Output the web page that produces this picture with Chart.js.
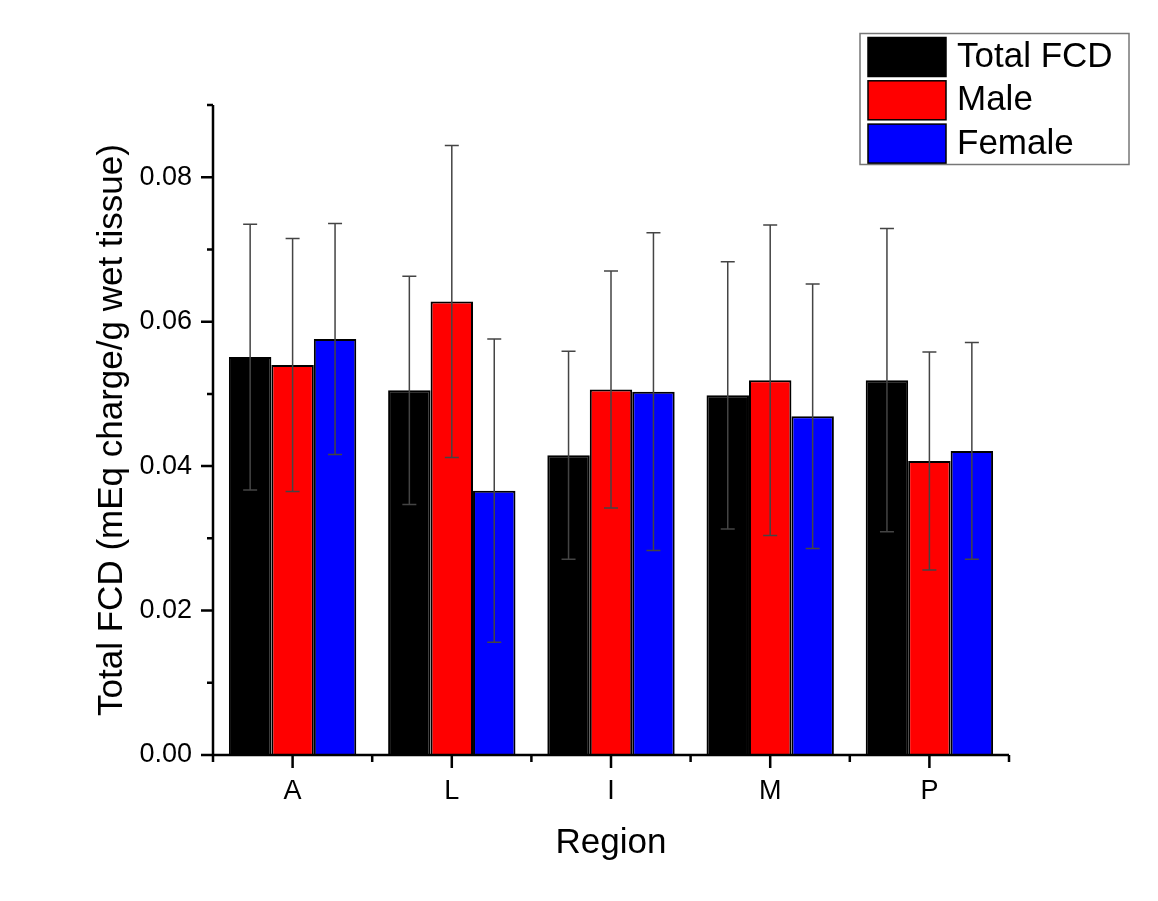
<!DOCTYPE html>
<html>
<head>
<meta charset="utf-8">
<title>Total FCD by region</title>
<script src="https://cdn.jsdelivr.net/npm/chart.js@4.4.1/dist/chart.umd.min.js"></script>
<style>
  body { margin: 0; background: #fff; }
</style>
</head>
<body>
<canvas id="fcdChart" width="1158" height="901"></canvas>
<script>
// DATA ==================================================================
var regions = ["A", "L", "I", "M", "P"];

var totalFcd = [0.0551, 0.0505, 0.0415, 0.0498, 0.0519];
var totalFcdErr = [0.0184, 0.0158, 0.0144, 0.0185, 0.0210];

var maleFcd = [0.0540, 0.0628, 0.0506, 0.0519, 0.0407];
var maleFcdErr = [0.0175, 0.0216, 0.0164, 0.0215, 0.0151];

var femaleFcd = [0.0576, 0.0366, 0.0503, 0.0469, 0.0421];
var femaleFcdErr = [0.0160, 0.0210, 0.0220, 0.0183, 0.0150];

var yMax = 0.09;
var yStep = 0.01; // labelled every second step

var FONT = "'Liberation Sans', Arial, sans-serif";

// error bars (whisker + caps) on top of each bar
var errorBars = {
	id: "errorBars",
	afterDatasetsDraw: function (chart) {
		var ctx = chart.ctx;
		var y = chart.scales.y;
		ctx.save();
		ctx.strokeStyle = "#444";
		ctx.lineWidth = 1.5;
		chart.data.datasets.forEach(function (ds, i) {
			var meta = chart.getDatasetMeta(i);
			meta.data.forEach(function (bar, j) {
				var top = y.getPixelForValue(ds.data[j] + ds.errors[j]);
				var bot = y.getPixelForValue(ds.data[j] - ds.errors[j]);
				ctx.beginPath();
				ctx.moveTo(bar.x, top);
				ctx.lineTo(bar.x, bot);
				ctx.moveTo(bar.x - 7, top);
				ctx.lineTo(bar.x + 7, top);
				ctx.moveTo(bar.x - 7, bot);
				ctx.lineTo(bar.x + 7, bot);
				ctx.stroke();
			});
		});
		ctx.restore();
	}
};

// axis lines and outward tick marks (long = major, short = minor)
var axisTicks = {
	id: "axisTicks",
	afterDraw: function (chart) {
		var ctx = chart.ctx;
		var x = chart.scales.x;
		var y = chart.scales.y;
		var area = chart.chartArea;
		var k, px;
		ctx.save();
		ctx.strokeStyle = "#000";
		ctx.lineWidth = 2.5;
		ctx.beginPath();
		ctx.moveTo(area.left, area.top);
		ctx.lineTo(area.left, area.bottom);
		ctx.lineTo(area.right, area.bottom);

		y.ticks.forEach(function (t, i) {
			var py = y.getPixelForTick(i);
			var len = Math.round(t.value * 100) % 2 === 0 ? 12 : 6;
			ctx.moveTo(area.left, py);
			ctx.lineTo(area.left - len, py);
		});

		for (k = 0; k < regions.length; k++) {
			px = x.getPixelForValue(k);
			ctx.moveTo(px, area.bottom);
			ctx.lineTo(px, area.bottom + 13);
		}
		for (k = 0; k <= regions.length; k++) {
			px = x.getPixelForValue(k - 0.5);
			ctx.moveTo(px, area.bottom);
			ctx.lineTo(px, area.bottom + 7);
		}
		ctx.stroke();
		ctx.restore();
	}
};

// framed legend in the top right corner
var boxLegend = {
	id: "boxLegend",
	afterDraw: function (chart) {
		var ctx = chart.ctx;
		ctx.save();
		ctx.strokeStyle = "#777";
		ctx.lineWidth = 1.5;
		ctx.strokeRect(860, 33.5, 269, 131);
		ctx.font = "35px " + FONT;
		ctx.textBaseline = "middle";
		chart.data.datasets.forEach(function (ds, i) {
			var top = 37.5 + i * 43.3;
			ctx.fillStyle = ds.backgroundColor;
			ctx.fillRect(868, top, 78, 39);
			ctx.strokeStyle = "#000";
			ctx.strokeRect(868, top, 78, 39);
			ctx.fillStyle = "#000";
			ctx.fillText(ds.label, 957, top + 20);
		});
		ctx.restore();
	}
};

new Chart(document.getElementById("fcdChart"), {
	type: "bar",
	data: {
		labels: regions,
		datasets: [
			{ label: "Total FCD", data: totalFcd, errors: totalFcdErr, backgroundColor: "#000000" },
			{ label: "Male", data: maleFcd, errors: maleFcdErr, backgroundColor: "#ff0000" },
			{ label: "Female", data: femaleFcd, errors: femaleFcdErr, backgroundColor: "#0000ff" }
		]
	},
	options: {
		responsive: false,
		animation: false,
		layout: { padding: { left: 80, right: 149, top: 105, bottom: 20 } },
		datasets: {
			bar: {
				categoryPercentage: 0.8,
				barPercentage: 1.0,
				borderColor: "#000",
				borderWidth: 2
			}
		},
		plugins: {
			legend: { display: false },
			tooltip: { enabled: false }
		},
		scales: {
			x: {
				grid: { display: false, drawTicks: false },
				border: { display: false },
				ticks: { color: "#000", font: { family: FONT, size: 27 }, padding: 20 },
				title: {
					display: true,
					text: "Region",
					color: "#000",
					font: { family: FONT, size: 35 },
					padding: { top: 0, bottom: 17 }
				},
				afterFit: function (scale) { scale.height = 126; }
			},
			y: {
				min: 0,
				max: yMax,
				grid: { display: false, drawTicks: false },
				border: { display: false },
				ticks: {
					stepSize: yStep,
					color: "#000",
					font: { family: FONT, size: 27 },
					padding: 21,
					callback: function (v) {
						return Math.round(v * 100) % 2 === 0 ? v.toFixed(2) : "";
					}
				},
				title: {
					display: true,
					text: "Total FCD (mEq charge/g wet tissue)",
					color: "#000",
					font: { family: FONT, size: 35 },
					padding: { top: 11, bottom: 0 }
				},
				afterFit: function (scale) { scale.width = 133; }
			}
		}
	},
	plugins: [errorBars, axisTicks, boxLegend]
});
</script>
</body>
</html>
